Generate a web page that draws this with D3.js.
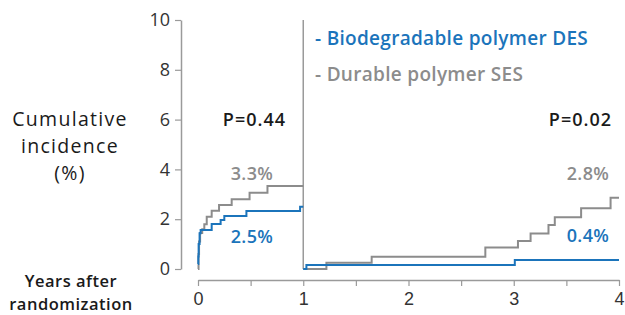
<!DOCTYPE html>
<html>
<head>
<meta charset="utf-8">
<script src="https://cdn.jsdelivr.net/npm/d3@7"></script>
<style>
  body { margin: 0; background: #fff; }
  svg { display: block; font-family: "Open Sans", sans-serif; }
</style>
</head>
<body>
<div id="chart"></div>
<script>
// cumulative incidence (%), [years, value]
const bioEarly = [[0, 0.2], [0.003, 0.5], [0.006, 1.0], [0.015, 1.44], [0.025, 1.57], [0.13, 1.81], [0.215, 1.97], [0.25, 2.13], [0.46, 2.33], [0.97, 2.5], [1, 2.5]];
const durEarly = [[0, 0], [0.005, 0.6], [0.01, 1.1], [0.02, 1.45], [0.04, 1.6], [0.06, 1.8], [0.083, 2.1], [0.13, 2.34], [0.2, 2.57], [0.32, 2.8], [0.49, 3.06], [0.66, 3.33], [1, 3.33]];
const bioLate = [[1, 0], [1.03, 0.16], [3.01, 0.36], [4, 0.36]];
const durLate = [[1, 0], [1.22, 0.25], [1.65, 0.49], [2.73, 0.86], [3.04, 1.12], [3.16, 1.43], [3.33, 1.77], [3.39, 2.08], [3.64, 2.44], [3.92, 2.86], [4, 2.86]];

const yTicks = [0, 2, 4, 6, 8, 10];
const xTicks = [0, 1, 2, 3, 4];
const xMinor = [0, 0.5, 1, 1.5, 2, 2.5, 3, 3.5, 4];
const seriesNames = ["Biodegradable polymer DES", "Durable polymer SES"];
const pValues = ["P=0.44", "P=0.02"];
const endLabels = [["3.3%", "2.5%"], ["2.8%", "0.4%"]];

const width = 625, height = 315;
const blue = "#1b74bb", grey = "#8c8c8c", axisGrey = "#9a9a9a";

const x = d3.scaleLinear().domain([0, 4]).range([198, 619]);
const y = d3.scaleLinear().domain([0, 10]).range([269, 20]);

const svg = d3.select("#chart").append("svg")
    .attr("width", width)
    .attr("height", height);

// y axis
svg.append("g")
    .attr("transform", "translate(181,0)")
    .call(d3.axisLeft(y).tickValues(yTicks).tickSize(6).tickPadding(5).tickSizeOuter(0))
    .call(g => g.select(".domain").attr("stroke", axisGrey).attr("stroke-width", 1.5))
    .call(g => g.selectAll(".tick line").attr("stroke", axisGrey).attr("stroke-width", 1.2))
    .call(g => g.selectAll(".tick text").attr("font-size", 18).attr("fill", "#333").attr("font-family", "Open Sans"));

// x axis, ticks every half year, labels on whole years
svg.append("g")
    .attr("transform", "translate(0,280)")
    .call(d3.axisBottom(x).tickValues(xMinor).tickSize(6).tickSizeOuter(0)
        .tickFormat(d => xTicks.includes(d) ? d : ""))
    .call(g => g.select(".domain").attr("stroke", axisGrey).attr("stroke-width", 1.5))
    .call(g => g.selectAll(".tick line").attr("stroke", axisGrey).attr("stroke-width", 1.2))
    .call(g => g.selectAll(".tick text").attr("font-size", 18).attr("fill", "#333").attr("dy", "0.9em"));

// landmark line at 1 year
svg.append("line")
    .attr("x1", x(1)).attr("x2", x(1))
    .attr("y1", y(10)).attr("y2", y(0))
    .attr("stroke", axisGrey).attr("stroke-width", 1.5);

const line = d3.line()
    .x(d => x(d[0]))
    .y(d => y(d[1]))
    .curve(d3.curveStepAfter);

[[durEarly, grey], [bioEarly, blue], [durLate, grey], [bioLate, blue]].forEach(([d, c]) => {
  svg.append("path")
      .datum(d)
      .attr("fill", "none")
      .attr("stroke", c)
      .attr("stroke-width", 2)
      .attr("d", line);
});

// y title
svg.append("text")
    .attr("x", 70).attr("y", 126)
    .attr("text-anchor", "middle")
    .attr("font-size", 19.5).attr("fill", "#1a1a1a")
    .attr("letter-spacing", 1.3)
    .selectAll("tspan")
    .data(["Cumulative", "incidence", "(%)"])
    .join("tspan")
      .attr("x", 70)
      .attr("dy", (d, i) => i ? 27 : 0)
      .text(d => d);

// x title
svg.append("text")
    .attr("x", 71).attr("y", 287)
    .attr("text-anchor", "middle")
    .attr("font-size", 16.5).attr("font-weight", 600).attr("fill", "#1a1a1a")
    .attr("letter-spacing", 0.5)
    .selectAll("tspan")
    .data(["Years after", "randomization"])
    .join("tspan")
      .attr("x", 71)
      .attr("dy", (d, i) => i ? 23 : 0)
      .text(d => d);

// legend
svg.append("g")
    .selectAll("text")
    .data(seriesNames)
    .join("text")
      .attr("x", 315)
      .attr("y", (d, i) => 45 + i * 36)
      .attr("font-size", 19).attr("font-weight", 600)
      .attr("letter-spacing", 0.3)
      .attr("fill", (d, i) => i ? grey : blue)
      .text(d => "- " + d);

// p values
svg.append("g")
    .selectAll("text")
    .data(pValues)
    .join("text")
      .attr("x", (d, i) => i ? 612 : 286)
      .attr("y", 126)
      .attr("text-anchor", "end")
      .attr("font-size", 18).attr("font-weight", 600).attr("fill", "#1a1a1a")
      .attr("letter-spacing", 1)
      .text(d => d);

// end-of-curve percentages
endLabels.forEach((pair, i) => {
  const cx = i ? 588 : 252;
  svg.append("text")
      .attr("x", cx).attr("y", 180)
      .attr("text-anchor", "middle")
      .attr("font-size", 18).attr("font-weight", 600).attr("fill", grey)
      .attr("letter-spacing", 0.4)
      .text(pair[0]);
  svg.append("text")
      .attr("x", cx).attr("y", i ? 242 : 243)
      .attr("text-anchor", "middle")
      .attr("font-size", 18).attr("font-weight", 600).attr("fill", blue)
      .attr("letter-spacing", 0.4)
      .text(pair[1]);
});
</script>
</body>
</html>
